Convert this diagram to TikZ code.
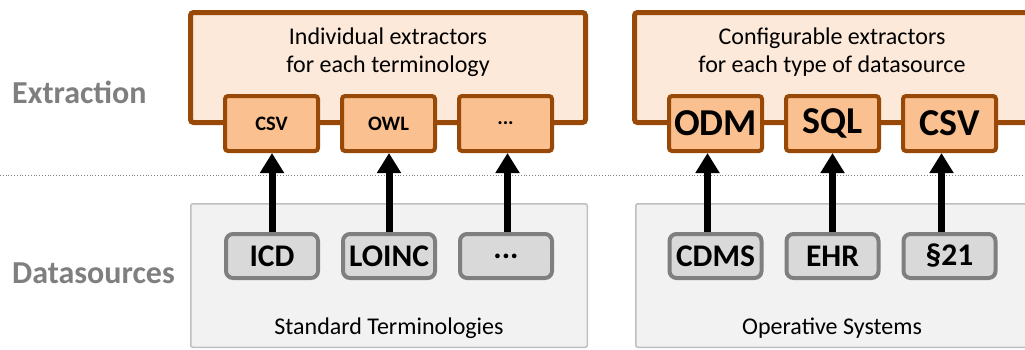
\documentclass[tikz,border=0pt]{standalone}
\usepackage{fontspec}
\setmainfont{Carlito}
\usetikzlibrary{positioning,arrows.meta}

\definecolor{extborder}{HTML}{984807}
\definecolor{extfill}{HTML}{FDE9D9}
\definecolor{extbox}{HTML}{FAC090}
\definecolor{srcfill}{HTML}{F2F2F2}
\definecolor{srcborder}{HTML}{BFBFBF}
\definecolor{srcbox}{HTML}{D9D9D9}
\definecolor{srcboxborder}{HTML}{7F7F7F}
\definecolor{layertext}{HTML}{7F7F7F}

\begin{document}
\begin{tikzpicture}[x=1pt,y=-1pt,
    layer label/.style={font=\bfseries\fontsize{32}{38}\selectfont,text=layertext,anchor=base west,inner sep=0pt},
    extractor group/.style={draw=extborder,fill=extfill,line width=5pt,rounded corners=3pt,minimum width=395pt,minimum height=110pt,inner sep=0pt},
    extractor/.style={draw=extborder,fill=extbox,line width=4pt,rounded corners=3pt,minimum width=93pt,minimum height=55pt,inner sep=0pt},
    small/.style={font=\bfseries\fontsize{20.5}{24}\selectfont},
    large/.style={font=\bfseries\fontsize{38}{42}\selectfont},
    source group/.style={draw=srcborder,fill=srcfill,line width=1.5pt,rounded corners=2pt,minimum width=396.5pt,minimum height=143.5pt,inner sep=0pt},
    source/.style={draw=srcboxborder,fill=srcbox,line width=4pt,rounded corners=7pt,minimum width=92pt,minimum height=44pt,inner sep=0pt,font=\bfseries\fontsize{31.5}{36}\selectfont},
    caption/.style={font=\fontsize{24}{28}\selectfont,align=center,inner sep=0pt},
    feed/.style={-{Triangle[width=23pt,length=20pt]},line width=7pt}]

    \useasboundingbox (0,0) rectangle (1025,349);
    \clip (0,0) rectangle (1025,349);

    % layer names and divider
    \node[layer label] (extraction) at (12,103) {Extraction};
    \node[layer label] (datasources) at (12,283) {Datasources};
    \coordinate (divider west) at (0,175);
    \coordinate (divider east) at (1025,175);
    \draw[dotted,line width=0.8pt,gray] (divider west) -- (divider east);

    % datasources
    \node[source group] (terminologies) at (389,275.5) {};
    \node[source group] (operative) at (834,275.5) {};
    \node[caption,anchor=base] (terminologies text) at (389,334) {Standard Terminologies};
    \node[caption,anchor=base] (operative text) at (832,334) {Operative Systems};

    \node[source] (icd) at (272,256) {ICD};
    \node[source] (loinc) [right=21pt of icd] {LOINC};
    \node[source] (moreterms) [right=21pt of loinc] {...};

    \node[source] (cdms) at (715.5,256) {CDMS};
    \node[source] (ehr) [right=21pt of cdms] {EHR};
    \node[source] (par21) [right=21pt of ehr] {\S21};

    % extractors
    \node[extractor group] (individual) at (388,67.5) {};
    \node[extractor group] (configurable) at (832,67.5) {};
    \node[caption,anchor=base] (individual text) at (388,44) {Individual extractors};
    \node[caption,anchor=base] (individual text 2) at (388,72) {for each terminology};
    \node[caption,anchor=base] (configurable text) at (832,44) {Configurable extractors};
    \node[caption,anchor=base] (configurable text 2) at (832,72) {for each type of datasource};

    \node[extractor,small] (csvfile) at (271.5,123.5) {CSV};
    \node[extractor,small] (owl) [right=20pt of csvfile] {OWL};
    \node[extractor,small] (moreformats) [right=20pt of owl] {...};

    \node[extractor,large] (odm) at (715.5,123.5) {ODM};
    \node[extractor,large] (sql) [right=20pt of odm] {SQL};
    \node[extractor,large] (csvsource) [right=20pt of sql] {CSV};

    % data flow
    \draw[feed] (icd.north) -- (icd.north |- csvfile.south);
    \draw[feed] (loinc.north) -- (loinc.north |- owl.south);
    \draw[feed] ([xshift=1.5pt]moreterms.north) -- ([xshift=1.5pt]moreterms.north |- moreformats.south);
    \draw[feed] ([xshift=-8pt]cdms.north) -- ([xshift=-8pt]cdms.north |- odm.south);
    \draw[feed] (ehr.north) -- (ehr.north |- sql.south);
    \draw[feed] ([xshift=-8pt]par21.north) -- ([xshift=-8pt]par21.north |- csvsource.south);
\end{tikzpicture}
\end{document}
